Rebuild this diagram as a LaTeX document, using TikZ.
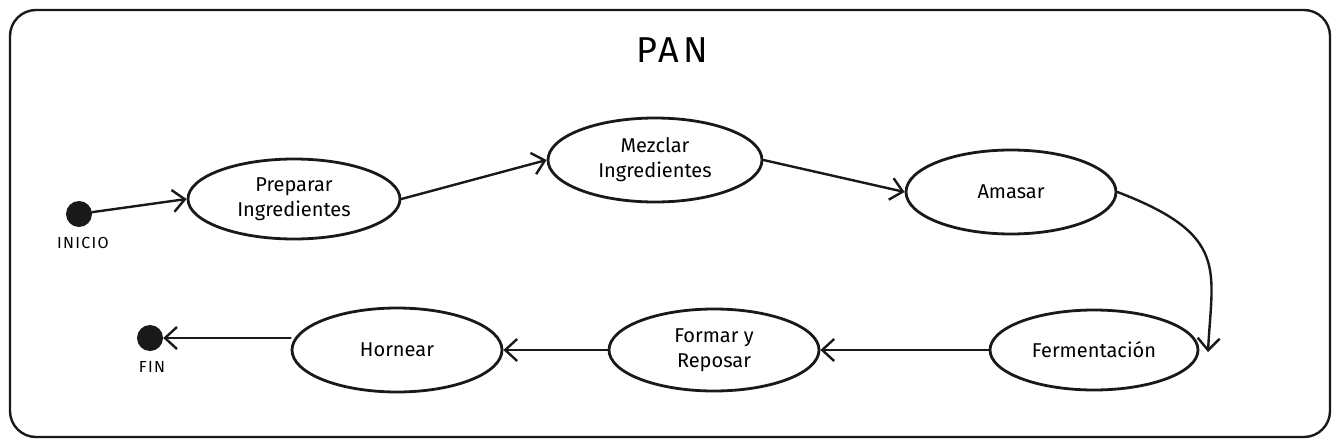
\documentclass[tikz,border=0pt]{standalone}
\usepackage{fontspec}
\setmainfont{Fira Sans}
\newfontfamily\labfont[LetterSpace=10]{Fira Sans}
\newfontfamily\smallfont[LetterSpace=8]{Fira Sans}
\usetikzlibrary{arrows.meta,shapes.geometric}
\begin{document}
\begin{tikzpicture}[x=1pt,y=-1pt,
  state/.style={draw=black!90,line width=2.8pt,ellipse,inner sep=0pt,font=\fontsize{20}{25}\selectfont,align=center},
  dot/.style={circle,fill=black!90,minimum size=26pt,inner sep=0pt},
  lbl/.style={font=\smallfont\fontsize{16}{18}\selectfont},
  conn/.style={draw=black!90,line width=2.4pt,-{Straight Barb[length=12pt,width=22pt,line width=2.4pt]},line cap=round}]
\useasboundingbox (0,0) rectangle (1341,447);
\draw[black!90,line width=2.4pt,rounded corners=26pt] (10,10) rectangle (1330,437);
\node[font=\labfont\fontsize{36}{40}\selectfont] (title) at (672,50) {PAN};
\node[dot] (ini) at (79,214) {};
\node[lbl] (inil) at (83,243) {INICIO};
\node[dot] (fin) at (150,338) {};
\node[lbl] (finl) at (152,367) {FIN};
\node[state,minimum width=212pt,minimum height=80pt] (prep) at (294,199) {Preparar\\Ingredientes};
\node[state,minimum width=214pt,minimum height=84pt] (mez) at (655,160) {Mezclar\\Ingredientes};
\node[state,minimum width=210pt,minimum height=84pt] (ama) at (1011,192) {Amasar};
\node[state,minimum width=208pt,minimum height=80pt] (fer) at (1094,350) {Fermentación};
\node[state,minimum width=210pt,minimum height=82pt] (for) at (714,350) {Formar y\\Reposar};
\node[state,minimum width=210pt,minimum height=84pt] (hor) at (397,350) {Hornear};
\coordinate (ferend) at (1208,352);
\draw[conn] (ini) -- (prep.west);
\draw[conn] (prep.east) -- (mez.west);
\draw[conn] (mez.east) -- (ama.west);
\draw[conn] (ama.east) .. controls (1230,235) and (1212,270) .. (ferend);
\draw[conn] (fer.west) -- (for.east);
\draw[conn] (for.west) -- (hor.east);
\draw[conn] (hor.west |- fin) -- (fin);
\end{tikzpicture}
\end{document}
